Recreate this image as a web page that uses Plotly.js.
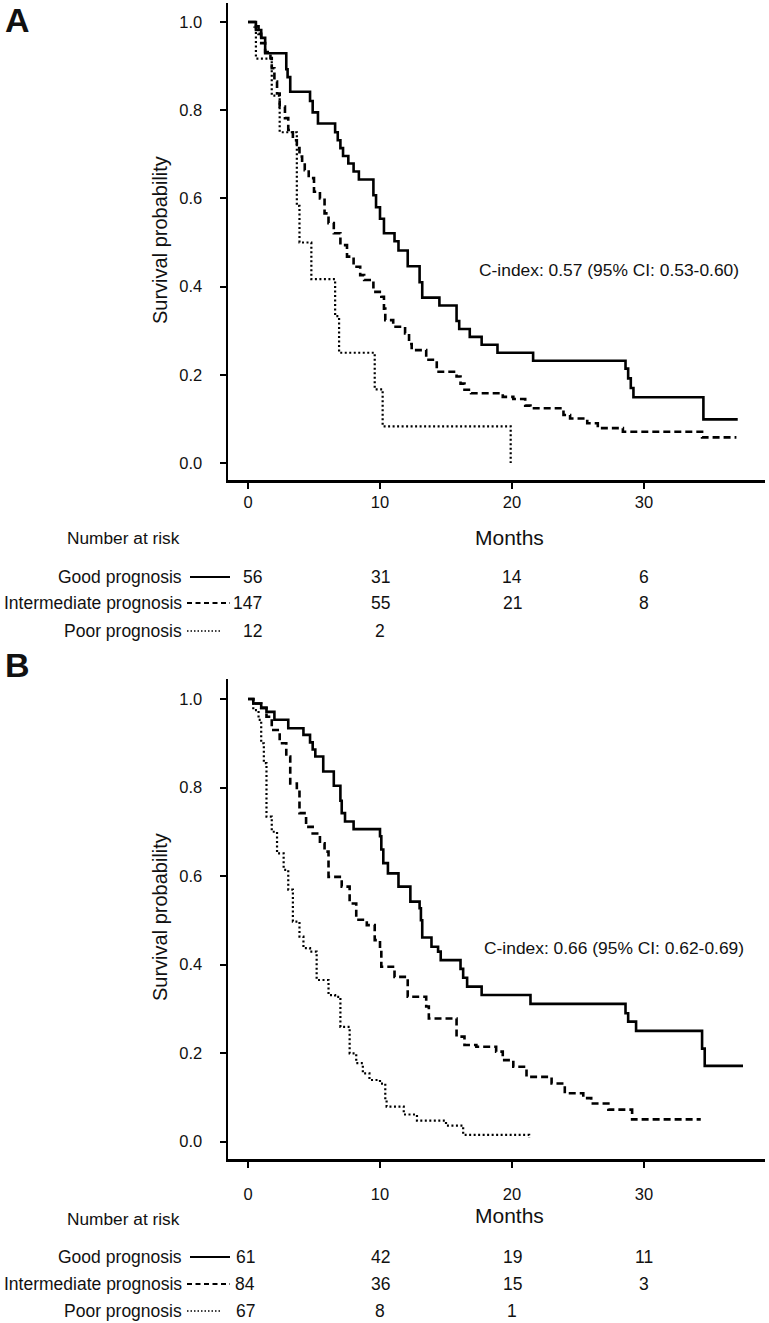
<!DOCTYPE html>
<html>
<head>
<meta charset="utf-8">
<script src="https://cdn.plot.ly/plotly-3.0.1.min.js"></script>
<style>html,body{margin:0;padding:0;background:#fff;}#chart{width:769px;height:1323px;}</style>
</head>
<body>
<div id="chart"></div>
<script>
// ---------- Data ----------
// Panel A
const timesAGood = [0, 0.6, 1.0, 1.3, 2.9, 3.0, 3.2, 4.7, 4.9, 5.3, 6.6, 6.8, 7.0, 7.2, 7.6, 8.0, 8.4, 9.5, 9.7, 10.0, 10.3, 11.1, 11.4, 12.1, 13.0, 13.2, 14.5, 15.8, 16.0, 16.8, 17.7, 18.9, 21.6, 28.6, 28.8, 29.0, 29.2, 34.5, 37.1];
const survAGood  = [1.0, 0.982, 0.964, 0.929, 0.893, 0.875, 0.842, 0.821, 0.795, 0.770, 0.750, 0.732, 0.714, 0.696, 0.679, 0.661, 0.643, 0.607, 0.580, 0.554, 0.521, 0.503, 0.482, 0.446, 0.410, 0.375, 0.357, 0.322, 0.304, 0.286, 0.268, 0.250, 0.232, 0.214, 0.192, 0.170, 0.149, 0.099, 0.099];

const timesAInt = [0, 0.5, 0.8, 1.0, 1.3, 1.7, 1.8, 2.0, 2.2, 2.4, 2.8, 3.05, 3.4, 3.7, 3.9, 4.1, 4.3, 4.6, 5.0, 5.45, 5.8, 6.1, 6.5, 7.0, 7.5, 8.0, 8.5, 8.8, 9.5, 10.1, 10.3, 10.4, 11.0, 11.9, 12.2, 12.4, 13.5, 14.3, 15.8, 16.1, 16.4, 16.9, 19.3, 20.1, 21.0, 21.4, 23.9, 24.4, 25.7, 26.5, 28.4, 34.4, 37.0];
const survAInt  = [1.0, 0.99, 0.973, 0.952, 0.932, 0.918, 0.895, 0.865, 0.838, 0.808, 0.782, 0.755, 0.732, 0.714, 0.695, 0.680, 0.664, 0.646, 0.615, 0.600, 0.566, 0.544, 0.521, 0.494, 0.468, 0.445, 0.426, 0.415, 0.388, 0.377, 0.350, 0.324, 0.309, 0.294, 0.270, 0.256, 0.234, 0.207, 0.196, 0.180, 0.166, 0.158, 0.150, 0.145, 0.130, 0.124, 0.109, 0.101, 0.090, 0.079, 0.071, 0.058, 0.058];

const timesAPoor = [0, 0.6, 1.8, 2.4, 3.7, 3.9, 4.8, 6.6, 6.9, 9.6, 10.2, 19.9];
const survAPoor  = [1.0, 0.917, 0.833, 0.75, 0.583, 0.5, 0.417, 0.333, 0.25, 0.167, 0.083, 0.0];

// Panel B
const timesBGood = [0, 0.4, 1.0, 1.4, 2.0, 3.05, 4.2, 4.7, 4.9, 5.1, 5.7, 6.5, 7.0, 7.1, 7.35, 8.0, 10.0, 10.1, 10.25, 10.6, 11.4, 12.3, 13.0, 13.1, 13.2, 13.9, 14.4, 14.6, 16.1, 16.3, 16.6, 17.7, 21.4, 28.6, 28.8, 29.4, 34.4, 34.6, 37.5];
const survBGood  = [1.0, 0.99, 0.98, 0.971, 0.953, 0.934, 0.919, 0.902, 0.886, 0.87, 0.836, 0.804, 0.77, 0.742, 0.723, 0.706, 0.69, 0.66, 0.629, 0.606, 0.576, 0.542, 0.527, 0.50, 0.461, 0.440, 0.429, 0.410, 0.39, 0.37, 0.350, 0.331, 0.311, 0.29, 0.271, 0.250, 0.21, 0.171, 0.171];

const timesBInt = [0, 0.4, 1.0, 1.4, 1.8, 2.4, 2.9, 3.2, 3.7, 3.9, 4.4, 4.9, 5.45, 5.8, 6.1, 7.1, 7.7, 8.2, 9.0, 9.6, 10.0, 10.1, 11.1, 12.1, 13.5, 13.7, 15.8, 16.4, 17.3, 18.8, 19.3, 20.1, 21.1, 23.0, 24.0, 25.4, 26.0, 27.3, 29.1, 34.3];
const survBInt  = [1.0, 0.99, 0.98, 0.96, 0.930, 0.90, 0.870, 0.809, 0.794, 0.742, 0.711, 0.696, 0.674, 0.655, 0.598, 0.576, 0.538, 0.501, 0.489, 0.455, 0.433, 0.395, 0.372, 0.327, 0.305, 0.278, 0.237, 0.218, 0.214, 0.203, 0.184, 0.169, 0.146, 0.131, 0.109, 0.098, 0.086, 0.072, 0.05, 0.05];

const timesBPoor = [0, 0.4, 0.8, 1.0, 1.2, 1.4, 1.8, 2.2, 2.7, 3.05, 3.4, 3.9, 4.2, 4.7, 5.2, 6.1, 6.6, 7.0, 7.7, 8.2, 8.7, 9.2, 10.0, 10.4, 10.5, 11.8, 12.8, 15.0, 16.3, 21.3];
const survBPoor  = [1.0, 0.975, 0.953, 0.90, 0.855, 0.734, 0.70, 0.651, 0.614, 0.569, 0.497, 0.463, 0.437, 0.429, 0.365, 0.331, 0.327, 0.259, 0.199, 0.177, 0.154, 0.139, 0.131, 0.094, 0.079, 0.061, 0.047, 0.036, 0.015, 0.008];

// Numbers at risk
const riskTimes = [0, 10, 20, 30];
const groupLabels = ["Good prognosis", "Intermediate prognosis", "Poor prognosis"];
const riskAGood = [56, 31, 14, 6];
const riskAInt  = [147, 55, 21, 8];
const riskAPoor = [12, 2];
const riskBGood = [61, 42, 19, 11];
const riskBInt  = [84, 36, 15, 3];
const riskBPoor = [67, 8, 1];

const xTicks = [0, 10, 20, 30];
const yTicks = [0, 0.2, 0.4, 0.6, 0.8, 1.0];
const panelLabels = ["A", "B"];
const cIndexA = "C-index: 0.57 (95% CI: 0.53-0.60)";
const cIndexB = "C-index: 0.66 (95% CI: 0.62-0.69)";
const yTitle = "Survival probability";
const xTitle = "Months";
const riskTitle = "Number at risk";

// ---------- Layout helpers ----------
const W = 769, H = 1323;
const px = x => x / W;
const py = y => 1 - y / H;
const FONT = "Liberation Sans, Arial, Helvetica, sans-serif";
const TXT = "#111";
const styles = [
  {color: "#000", width: 2.6, dash: "solid"},
  {color: "#000", width: 2.6, dash: "7px,4px"},
  {color: "#000", width: 2.2, dash: "2px,2.5px"}
];

function trace(x, y, s, xa, ya) {
  return {x: x, y: y, type: "scatter", mode: "lines", line: Object.assign({shape: "hv"}, s),
          xaxis: xa, yaxis: ya, showlegend: false, hoverinfo: "skip"};
}

const data = [
  trace(timesAGood, survAGood, styles[0], "x", "y"),
  trace(timesAInt, survAInt, styles[1], "x", "y"),
  trace(timesAPoor, survAPoor, styles[2], "x", "y"),
  trace(timesBGood, survBGood, styles[0], "x2", "y2"),
  trace(timesBInt, survBInt, styles[1], "x2", "y2"),
  trace(timesBPoor, survBPoor, styles[2], "x2", "y2")
];

function xAxis(anchor, standoff) {
  return {domain: [px(228), px(765)], range: [(228 - 248) / 13.2, (765 - 248) / 13.2], anchor: anchor,
          showline: true, linewidth: 2.5, linecolor: "#000", ticks: "outside", ticklen: 6, tickwidth: 2,
          tickcolor: "#000", tickvals: xTicks, showgrid: false, zeroline: false,
          tickfont: {family: FONT, size: 16.5, color: TXT}, ticklabelstandoff: standoff, fixedrange: true};
}
function yAxis(anchor, top, bottom, y0, y1) {
  const s = (y0 - y1);
  return {domain: [py(bottom), py(top)], range: [(y0 - bottom) / s, (y0 - top) / s], anchor: anchor,
          showline: true, linewidth: 2.5, linecolor: "#000", ticks: "outside", ticklen: 6, tickwidth: 2,
          tickcolor: "#000", tickvals: yTicks, tickformat: ".1f", showgrid: false, zeroline: false,
          tickfont: {family: FONT, size: 16.5, color: TXT}, ticklabelstandoff: 14, fixedrange: true};
}

const annotations = [];
const shapes = [];
function ann(text, x, y, size, opts) {
  annotations.push(Object.assign({text: text, x: px(x), y: py(y), xref: "paper", yref: "paper",
    showarrow: false, xanchor: "center", yanchor: "middle", font: {family: FONT, size: size, color: TXT}}, opts || {}));
}

function panel(label, labelY, ytitleY, cText, cX, cY, xref, monthsY, riskTitleY, rowsY, risks, col0Right) {
  ann("<b>" + label + "</b>", 17, labelY, 34);
  ann(yTitle, 160, ytitleY, 20, {textangle: -90});
  ann(cText, cX, cY, 17.4, {xanchor: "left"});
  ann(xTitle, 510, monthsY, 21);
  ann(riskTitle, 123, riskTitleY, 17.3);
  risks.forEach((vals, g) => {
    const yr = rowsY[g];
    ann(groupLabels[g], 184, yr, 17.5, {xanchor: "right"});
    shapes.push({type: "line", xref: "paper", yref: "paper", x0: px(g === 0 ? 190 : 187), x1: px(g === 2 ? 222 : 230),
                 y0: py(yr), y1: py(yr), line: {color: "#000", width: g === 2 ? 1.6 : 2, dash: g === 1 ? "5px,3.5px" : (g === 2 ? "1.5px,2px" : "solid")}});
    vals.forEach((v, i) => {
      if (i === 0) {
        ann(String(v), col0Right, yr, 17.5, {xanchor: "right"});
      } else {
        annotations.push({text: String(v), x: riskTimes[i], xref: xref, y: py(yr), yref: "paper",
          showarrow: false, xanchor: "center", yanchor: "middle", font: {family: FONT, size: 17.5, color: TXT}});
      }
    });
  });
}

panel(panelLabels[0], 20, 240, cIndexA, 477, 270, "x", 537, 538, [577, 603, 631],
      [riskAGood, riskAInt, riskAPoor], 264);
panel(panelLabels[1], 665, 917, cIndexB, 482, 948, "x2", 1215, 1219, [1257, 1284, 1311],
      [riskBGood, riskBInt, riskBPoor], 257);

const layout = {
  width: W, height: H, margin: {l: 0, r: 0, t: 0, b: 0},
  paper_bgcolor: "#fff", plot_bgcolor: "rgba(0,0,0,0)",
  font: {family: FONT, color: TXT},
  showlegend: false,
  xaxis: xAxis("y", 0),
  yaxis: yAxis("x", 3, 480, 463, 22),
  xaxis2: xAxis("y2", 13),
  yaxis2: yAxis("x2", 679, 1159, 1141.5, 699),
  annotations: annotations,
  shapes: shapes
};

Plotly.newPlot("chart", data, layout, {displayModeBar: false, staticPlot: true});
</script>
</body>
</html>
